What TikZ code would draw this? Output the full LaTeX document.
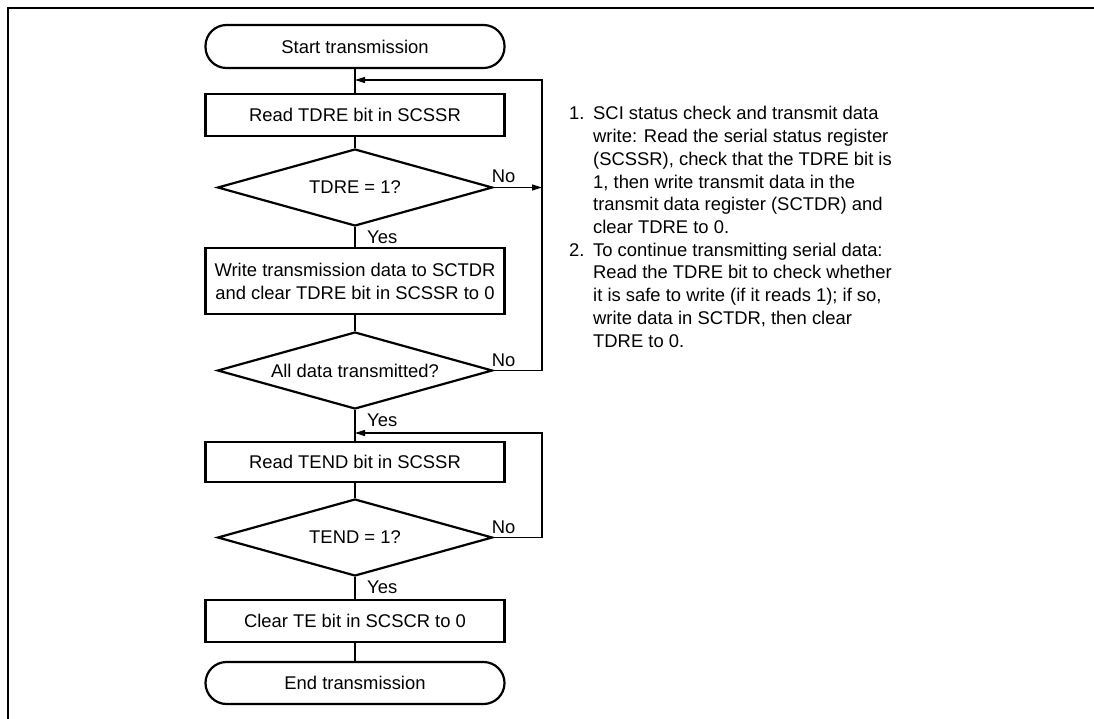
\documentclass[tikz,border=0pt]{standalone}
\usepackage{fontspec}
\setmainfont{Liberation Sans}
\usetikzlibrary{shapes.geometric,arrows.meta}
\begin{document}
\begin{tikzpicture}[x=1pt,y=-1pt,
  font=\fontsize{18.4}{23}\selectfont,
  term/.style={draw, line width=2.2pt, rounded corners=21pt, minimum width=299pt, minimum height=43pt, inner sep=0pt},
  proc/.style={draw, line width=2.2pt, minimum width=299pt, inner sep=0pt, align=center},
  dec/.style={draw, line width=2.2pt, diamond, aspect=3.57, minimum width=275pt, minimum height=77pt, inner sep=0pt},
  conn/.style={line width=1.1pt},
  arr/.style={conn, -{Triangle[length=10pt,width=6pt]}},
  lbl/.style={anchor=base west, inner sep=0pt},
  note/.style={anchor=base west, inner sep=0pt}
]
\useasboundingbox (0,0) rectangle (1094,719);
\draw[line width=2.3pt] (8.3,719) -- (8.3,8.3) -- (1094,8.3);

\node[term] (start) at (355,46.5) {Start transmission};
\node[proc, minimum height=42pt] (b1) at (355,115) {Read TDRE bit in SCSSR};
\node[dec] (d1) at (355,187.5) {TDRE = 1?};
\node[proc, minimum height=66pt] (b2) at (355,281) {Write transmission data to SCTDR\\and clear TDRE bit in SCSSR to 0};
\node[dec] (d2) at (355,370.5) {All data transmitted?};
\node[proc, minimum height=40pt] (b3) at (355,462) {Read TEND bit in SCSSR};
\node[dec] (d3) at (355,537.5) {TEND = 1?};
\node[proc, minimum height=42pt] (b4) at (355,621) {Clear TE bit in SCSCR to 0};
\node[term, minimum height=42pt] (end) at (355,683) {End transmission};

\coordinate (j1) at (355,80);
\coordinate (r1) at (542,80);
\coordinate (j2) at (355,433);
\coordinate (r2) at (542,433);

\draw[conn] (start.south) -- (b1.north);
\draw[conn] (b1.south) -- (d1.north);
\draw[arr] (d1.east) -- (d1.east -| r1);
\draw[conn] (d1.south) -- (b2.north);
\draw[conn] (b2.south) -- (d2.north);
\draw[arr] (d2.east) -| (r1) -- (j1);
\draw[conn] (d2.south) -- (b3.north);
\draw[conn] (b3.south) -- (d3.north);
\draw[arr] (d3.east) -| (r2) -- (j2);
\draw[conn] (d3.south) -- (b4.north);
\draw[conn] (b4.south) -- (end.north);

\node[lbl] (no1) at ([xshift=-2pt,yshift=4.5pt]d1.east) {No};
\node[lbl] (no2) at ([xshift=-2pt,yshift=4.5pt]d2.east) {No};
\node[lbl] (no3) at ([xshift=-2pt,yshift=4.5pt]d3.east) {No};
\node[lbl] (yes1) at ([xshift=12pt,yshift=-16pt]d1.south) {Yes};
\node[lbl] (yes2) at ([xshift=12pt,yshift=-16pt]d2.south) {Yes};
\node[lbl] (yes3) at ([xshift=12pt,yshift=-16pt]d3.south) {Yes};

\node[note] (m1) at (569,120) {1.};
\node[note] (n1) at (593,120) {SCI status check and transmit data};
\node[note] (n2) at (593,142.7) {write: Read the serial status register};
\node[note] (n3) at (593,165.4) {(SCSSR), check that the TDRE bit is};
\node[note] (n4) at (593,188.1) {1, then write transmit data in the};
\node[note] (n5) at (593,210.8) {transmit data register (SCTDR) and};
\node[note] (n6) at (593,233.5) {clear TDRE to 0.};
\node[note] (m2) at (569,256.2) {2.};
\node[note] (n7) at (593,256.2) {To continue transmitting serial data:};
\node[note] (n8) at (593,278.9) {Read the TDRE bit to check whether};
\node[note] (n9) at (593,301.6) {it is safe to write (if it reads 1); if so,};
\node[note] (n10) at (593,324.3) {write data in SCTDR, then clear};
\node[note] (n11) at (593,347) {TDRE to 0.};
\end{tikzpicture}
\end{document}
